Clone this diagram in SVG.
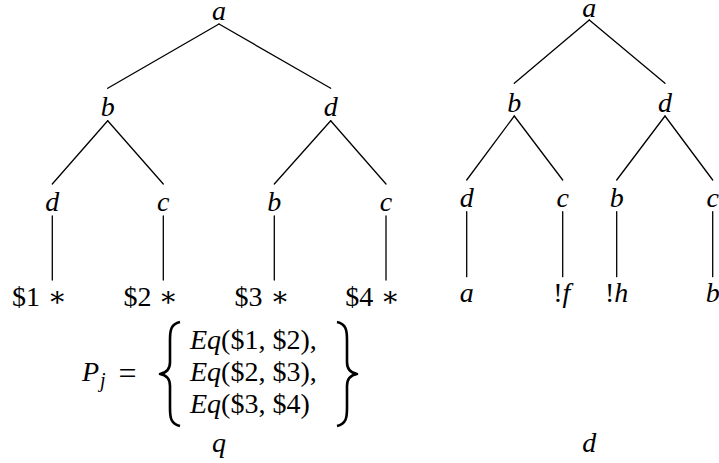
<svg xmlns="http://www.w3.org/2000/svg" width="719" height="463" viewBox="0 0 719 463">
<style>
text{font-family:'Liberation Serif','DejaVu Serif',serif;font-size:28px;fill:#000}
.n{text-anchor:middle;font-style:italic}
.i{font-style:italic}
.sub{font-size:20px;font-style:italic}
#connectors line{stroke:#000;stroke-width:1.3;stroke-linecap:round}
.brace{fill:none;stroke:#000;stroke-width:2.6;stroke-linejoin:round}
</style>
<rect width="719" height="463" fill="#fff"/>
<g id="connectors">
  <line x1="219" y1="24" x2="107.7" y2="88.3"/>
  <line x1="219" y1="24" x2="330.7" y2="88.3"/>
  <line x1="107.7" y1="120.7" x2="52.3" y2="184"/>
  <line x1="107.7" y1="120.7" x2="163.3" y2="184"/>
  <line x1="330.7" y1="120.7" x2="274.3" y2="184"/>
  <line x1="330.7" y1="120.7" x2="386" y2="184"/>
  <line x1="52.3" y1="216" x2="52.3" y2="280"/>
  <line x1="163.3" y1="216" x2="163.3" y2="280"/>
  <line x1="274.3" y1="216" x2="274.3" y2="280"/>
  <line x1="386" y1="216" x2="386" y2="280"/>
  <line x1="589.3" y1="20" x2="514.3" y2="83.3"/>
  <line x1="589.3" y1="20" x2="665" y2="83.3"/>
  <line x1="514.3" y1="116" x2="466.7" y2="180"/>
  <line x1="514.3" y1="116" x2="562.7" y2="180"/>
  <line x1="665" y1="116" x2="616.7" y2="180"/>
  <line x1="665" y1="116" x2="712.7" y2="180"/>
  <line x1="466.7" y1="211.7" x2="466.7" y2="276.7"/>
  <line x1="562.7" y1="211.7" x2="562.7" y2="276.7"/>
  <line x1="616.7" y1="211.7" x2="616.7" y2="276.7"/>
  <line x1="712.7" y1="211.7" x2="712.7" y2="276.7"/>
</g>
<g id="q-a"><text class="n" x="219" y="20">a</text></g>
<g id="q-b"><text class="n" x="107.7" y="115.5">b</text></g>
<g id="q-d"><text class="n" x="330.7" y="115.5">d</text></g>
<g id="q-d2"><text class="n" x="52.3" y="211">d</text></g>
<g id="q-c1"><text class="n" x="163.3" y="211">c</text></g>
<g id="q-b2"><text class="n" x="274.3" y="211">b</text></g>
<g id="q-c2"><text class="n" x="386" y="211">c</text></g>
<g id="q-l1"><text y="306"><tspan x="12">$1</tspan><tspan x="57" text-anchor="middle">∗</tspan></text></g>
<g id="q-l2"><text y="306"><tspan x="123.5">$2</tspan><tspan x="168" text-anchor="middle">∗</tspan></text></g>
<g id="q-l3"><text y="306"><tspan x="234.5">$3</tspan><tspan x="279.8" text-anchor="middle">∗</tspan></text></g>
<g id="q-l4"><text y="306"><tspan x="345.2">$4</tspan><tspan x="390" text-anchor="middle">∗</tspan></text></g>
<g id="formula">
  <text y="381"><tspan x="82" class="i">P</tspan><tspan class="sub" x="100" y="387">j</tspan></text>
  <text x="127.5" y="384" text-anchor="middle" style="font-size:32px">=</text>
  <path class="brace" d="M180,322 C171,324 170,330 170,340 L170,362 C170,370 166,373 160,374 C166,375 170,378 170,386 L170,408 C170,418 171,424 180,426"/>
  <text x="190" y="349"><tspan class="i">Eq</tspan>($1, $2),</text>
  <text x="190" y="381"><tspan class="i">Eq</tspan>($2, $3),</text>
  <text x="190" y="413"><tspan class="i">Eq</tspan>($3, $4)</text>
  <path class="brace" d="M337,322 C346,324 347,330 347,340 L347,362 C347,370 351,373 357,374 C351,375 347,378 347,386 L347,408 C347,418 346,424 337,426"/>
</g>
<g id="label-q"><text class="n" x="219" y="452">q</text></g>
<g id="d-a"><text class="n" x="589.3" y="16.5">a</text></g>
<g id="d-b"><text class="n" x="514.3" y="111.5">b</text></g>
<g id="d-d"><text class="n" x="665" y="111.5">d</text></g>
<g id="d-d2"><text class="n" x="466.7" y="207">d</text></g>
<g id="d-c1"><text class="n" x="562.7" y="207">c</text></g>
<g id="d-b2"><text class="n" x="616.7" y="207">b</text></g>
<g id="d-c2"><text class="n" x="712.7" y="207">c</text></g>
<g id="d-l1"><text class="n" x="466.7" y="302">a</text></g>
<g id="d-l2"><text x="561.7" y="302" text-anchor="middle">!<tspan class="i">f</tspan></text></g>
<g id="d-l3"><text x="616.7" y="302" text-anchor="middle">!<tspan class="i">h</tspan></text></g>
<g id="d-l4"><text class="n" x="712.7" y="302">b</text></g>
<g id="label-d"><text class="n" x="589.3" y="452">d</text></g>
</svg>
